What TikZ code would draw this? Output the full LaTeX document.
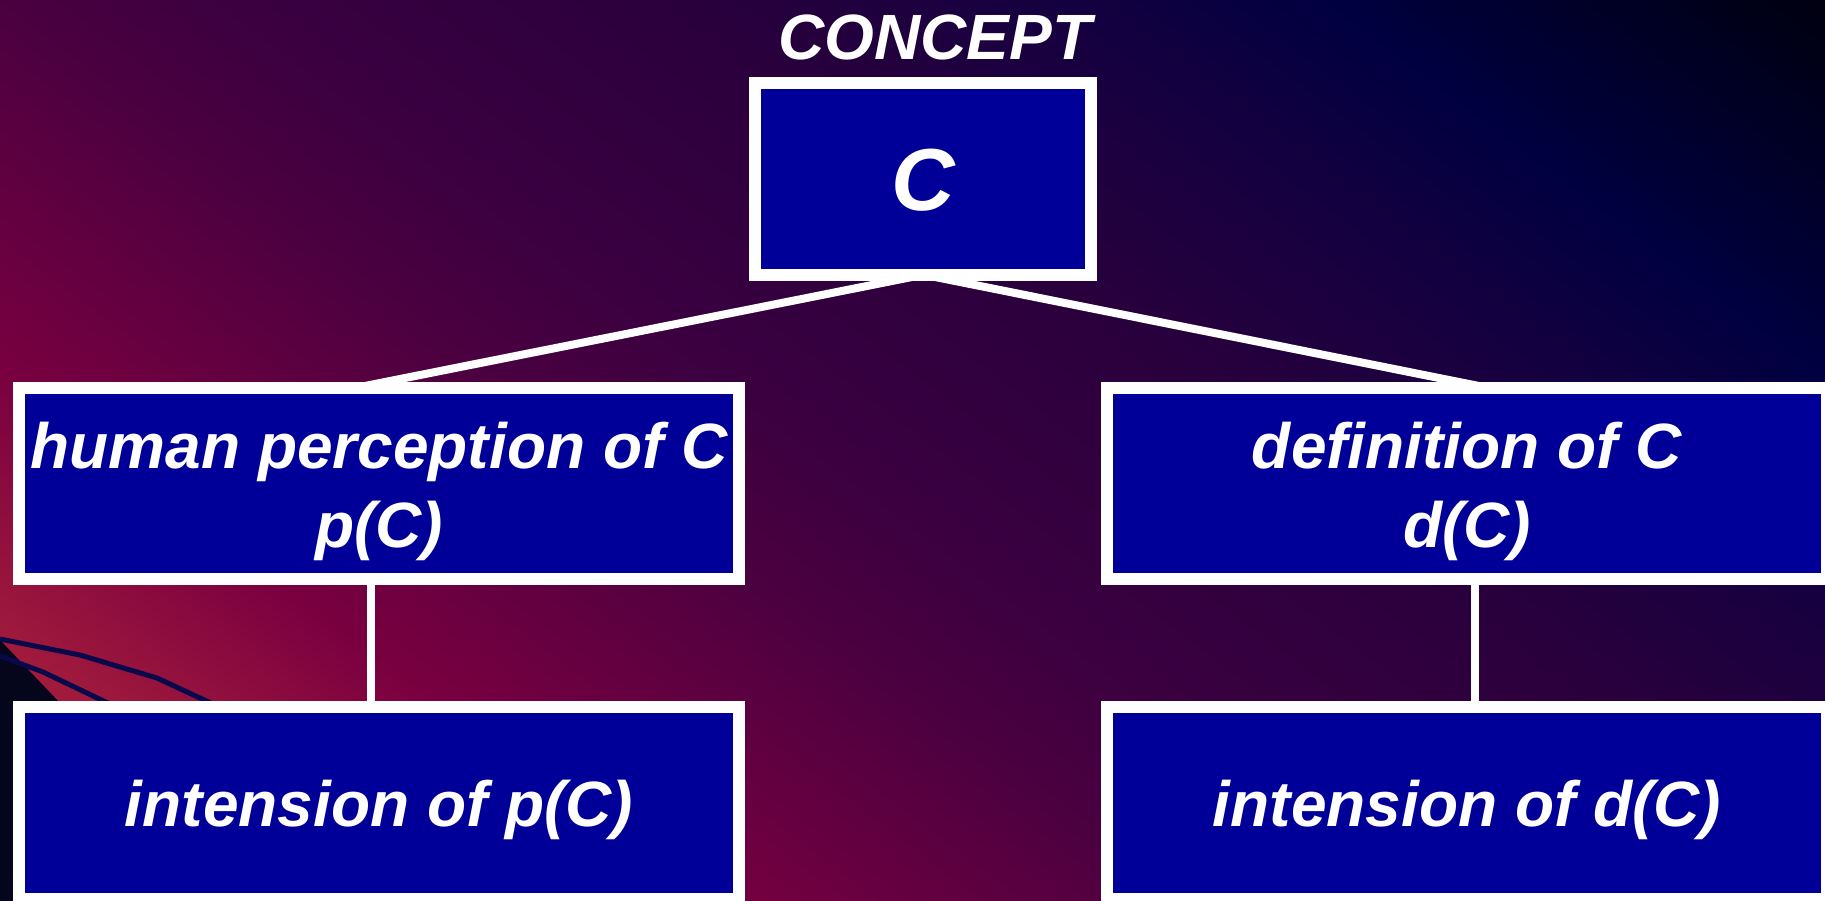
\documentclass[tikz,border=0pt]{standalone}
\usepackage{fontspec}
\setmainfont{Liberation Sans}
\usetikzlibrary{positioning,calc}

\definecolor{boxblue}{HTML}{000099}
\definecolor{bgred}{HTML}{B82234}
\definecolor{bgcrim}{HTML}{A01A3C}
\definecolor{bgwine}{HTML}{7A0040}
\definecolor{bgplum}{HTML}{4A0040}
\definecolor{bgaub}{HTML}{3A0040}
\definecolor{bgdusk}{HTML}{2A003C}
\definecolor{bgind}{HTML}{160040}
\definecolor{bgnavy}{HTML}{000040}
\definecolor{bgnight}{HTML}{000028}
\definecolor{bgblack}{HTML}{000010}
\definecolor{shadowink}{HTML}{05051C}
\definecolor{ropeblue}{HTML}{08084A}

% slide background, red in the lower left to black in the upper right
\pgfdeclarehorizontalshading{slidebg}{100bp}{
  color(0bp)=(bgred); color(27bp)=(bgred); color(32.5bp)=(bgcrim);
  color(37.7bp)=(bgwine); color(45.3bp)=(bgplum); color(49bp)=(bgaub);
  color(55.3bp)=(bgdusk); color(60.8bp)=(bgind); color(65.3bp)=(bgnavy);
  color(69bp)=(bgnight); color(72.7bp)=(bgblack); color(100bp)=(bgblack)}

\tikzset{
  cbox/.style={draw=white, line width=12pt, fill=boxblue, text=white,
    inner sep=0pt, align=center,
    font=\fontsize{64}{79}\selectfont\bfseries\itshape},
  ctitle/.style={text=white, inner sep=0pt, text depth=0pt,
    font=\fontsize{64}{79}\selectfont\bfseries\itshape},
  link/.style={draw=white, line width=8pt},
  rope/.style={draw=ropeblue, line width=5pt, line join=round}
}

\begin{document}
\begin{tikzpicture}[x=1pt,y=-1pt]
\useasboundingbox (0,0) rectangle (1825,901);

% background
\begin{scope}
  \clip (0,0) rectangle (1825,901);
  \shade[shading=slidebg, shading angle=53] (-87.5,-549.5) rectangle (1912.5,1450.5);
  \fill[shadowink] (0,640) -- (60,703) -- (60,901) -- (0,901) -- cycle;
  \draw[rope] (0,639) -- (80,655) -- (157,678) -- (215,705);
  \draw[rope] (0,656) -- (43,672) -- (112,705);
\end{scope}

% the concept and its two readings
\node[cbox, minimum width=336pt, minimum height=192pt, text height=63pt, text depth=0pt,
  font=\fontsize{88}{100}\selectfont\bfseries\itshape] (cnode) at (923,179) {C};
\node[ctitle, above=17pt of cnode, xshift=12pt] (ctext) {CONCEPT};

\node[cbox, minimum width=720pt, minimum height=191pt, text height=127pt, text depth=0pt]
  (pmid) at (379,483.5) {human perception of C\\p(C)};
\node[cbox, minimum width=720pt, minimum height=191pt, text height=127pt, text depth=0pt,
  right=356pt of pmid] (dmid) {definition of C\\d(C)};

\node[cbox, minimum width=720pt, minimum height=192pt, text height=46pt, text depth=0pt,
  below=116pt of pmid] (pint) {intension of p(C)};
\node[cbox, minimum width=720pt, minimum height=192pt, text height=46pt, text depth=0pt,
  below=116pt of dmid] (dint) {intension of d(C)};

% connectors
\draw[link, shorten <=-20pt, shorten >=-20pt] ($(cnode.south)+(-31pt,0pt)$) -- ($(pmid.north)+(6pt,0pt)$);
\draw[link, shorten <=-20pt, shorten >=-20pt] ($(cnode.south)+(32pt,0pt)$) -- ($(dmid.north)+(-8pt,0pt)$);
\draw[link] ($(pmid.south)+(-8pt,0pt)$) -- ($(pint.north)+(-8pt,0pt)$);
\draw[link] ($(dmid.south)+(8pt,0pt)$) -- ($(dint.north)+(8pt,0pt)$);
\end{tikzpicture}
\end{document}
